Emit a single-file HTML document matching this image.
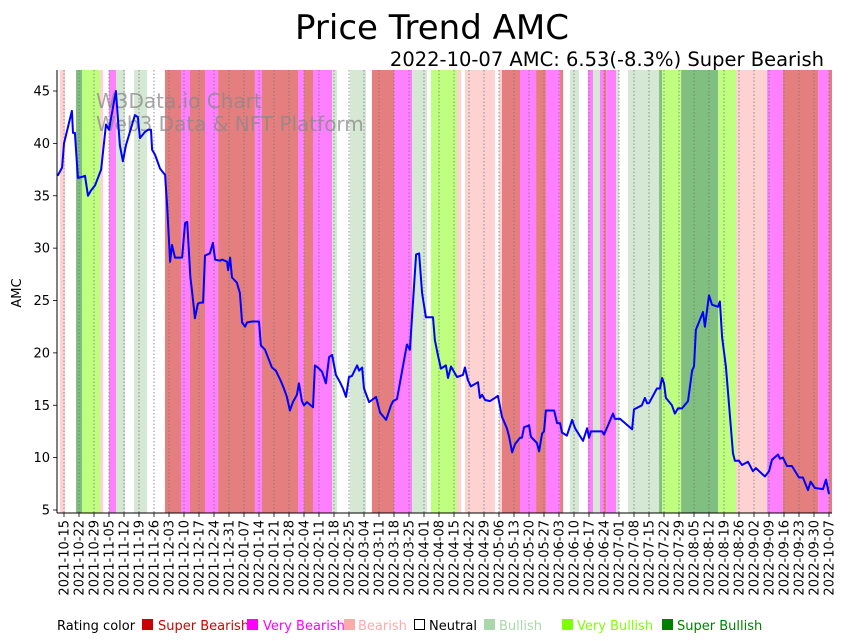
<!DOCTYPE html>
<html><head><meta charset="utf-8"><style>
body{margin:0;background:#fff;}
svg{display:block;font-family:"DejaVu Sans","Liberation Sans",sans-serif;}
</style></head><body>
<svg id="chart" width="848" height="641" viewBox="0 0 848 641">
<text x="432" y="39" font-size="34" text-anchor="middle" fill="#000">Price Trend AMC</text>
<text x="824" y="66" font-size="19.5" text-anchor="end" fill="#000">2022-10-07 AMC: 6.53(-8.3%) Super Bearish</text>
<g id="bands"></g>
<g id="grid"></g>
<g font-size="20" fill="#888" fill-opacity="0.75">
<text x="96" y="108">W3Data.io Chart</text>
<text x="96" y="131">Web3 Data &amp; NFT Platform</text>
</g>
<path id="line" fill="none" stroke="#0000ff" stroke-width="2" stroke-linejoin="round"/>
<g id="axes"></g>
<text transform="translate(21,293) rotate(-90)" font-size="13" text-anchor="middle">AMC</text>
<g font-size="13">
<text x="57" y="630" fill="#000">Rating color</text>
<rect x="142" y="619" width="11" height="11" fill="#cc0000"/>
<text x="158" y="630" fill="#d40000">Super Bearish</text>
<rect x="247" y="619" width="11" height="11" fill="#ff00ff"/>
<text x="263" y="630" fill="#ff00ff">Very Bearish</text>
<rect x="344" y="619" width="11" height="11" fill="#ffaaaa"/>
<text x="358" y="630" fill="#ffaaaa">Bearish</text>
<rect x="414.5" y="619.5" width="10" height="10" fill="#fff" stroke="#000"/>
<text x="429" y="630" fill="#000">Neutral</text>
<rect x="484" y="619" width="11" height="11" fill="#aad8aa"/>
<text x="499" y="630" fill="#aad8aa">Bullish</text>
<rect x="562" y="619" width="11" height="11" fill="#80ff00"/>
<text x="577" y="630" fill="#80ff00">Very Bullish</text>
<rect x="662" y="619" width="11" height="11" fill="#008000"/>
<text x="677" y="630" fill="#008000">Super Bullish</text>
</g>
</svg>
<script>
// Day offsets from 2021-10-12 and AMC prices
const days=[0,2.1,3,6.7,7.2,8.1,9.5,11.4,12.8,14.2,15.6,17.5,20.3,22.6,24,27.2,29.1,30.5,31.9,36.1,37.5,38.4,40.8,42.2,43.6,44.1,45.5,47.8,49.3,50.2,51.1,52.5,53.4,54.8,57.1,58.1,59.5,60.5,62,62.7,63.7,64.1,65.5,66.9,67.9,68.8,71.1,72.5,73.5,75.8,76.7,79.1,79.6,80.5,81.4,83.7,85.1,86.1,87.5,88.4,90.7,94,94.9,96.8,100,101.9,104.2,105.6,107,108.4,109.8,111.7,112.6,114,115,116.4,119.2,120.1,121.5,123.4,125.2,126.7,128.1,129.9,131.8,133.2,134.6,136,137.4,139.8,140.7,142.1,143,145.4,146.7,148.6,150.5,153.3,155.6,156.6,158.4,163,164.4,167.3,168.7,170.1,171.9,175.2,176.1,177.5,178.9,181.2,182.2,183.6,186.4,189.2,190.1,191.5,192.9,196.2,197.1,198.1,199.5,201.8,204.1,205.5,207.4,209.7,210.7,212.1,213.5,215.8,216.7,217.7,219.1,220,220.9,223.7,224.7,226.1,227,227.9,231.7,233.1,234.5,235.4,237.7,240.1,241.5,245.2,247.1,248,248.9,254.1,255,259.2,260.1,262.5,268.1,269,272.7,274.1,275.1,276,279.7,281.1,282.1,283,283.9,286.7,288.1,289.5,291.4,294.2,296.1,297,297.9,301.2,302.1,304,305.4,308.2,309.1,310.1,311.9,315.2,316.1,318,319.4,322.2,324.5,325.9,330.1,332,333.4,336.2,337.1,338.5,340.4,342.7,346,347.8,350.2,351.4,353.4,357.2,358.6,360];
const prices=[36.9,37.7,40,43.1,41,41,36.7,36.8,36.9,35,35.5,36,37.5,41.8,41.3,45,39.8,38.3,39.8,42.7,42.5,40.5,41.1,41.3,41.3,39.4,38.9,37.6,37.2,37,34.1,28.7,30.3,29.1,29.1,29.1,32.4,32.5,27.2,26,24.1,23.3,24.7,24.8,24.8,29.3,29.5,30.5,28.9,28.8,28.9,28.7,27.9,29.1,27.2,26.7,25.7,22.9,22.5,22.9,23,23,20.7,20.3,18.6,18.3,17.3,16.6,15.8,14.5,15.3,16,17.1,15.4,15,15.3,14.8,18.8,18.6,18.2,17.1,19.6,19.8,17.9,17.2,16.6,15.8,17.7,17.8,18.8,18.3,18.6,16.6,15.3,15.5,15.8,14.3,13.6,15,15.4,15.6,20.8,20.3,29.4,29.5,25.7,23.4,23.4,21.2,19.8,18.5,18.8,17.6,18.7,17.7,17.9,18.6,17.4,16.8,17.2,15.7,16,15.5,15.4,15.7,15.9,13.9,12.8,12,10.5,11.3,11.9,11.9,12.9,13,13.1,12,11.4,10.6,12.3,12.5,14.5,14.5,13.3,13.3,12.4,12.1,13.6,12.8,11.6,12.8,11.9,12.5,12.5,12.2,14.2,13.7,13.7,12.7,14.6,15,15.7,15.2,15.2,16.6,16.6,17.6,17.1,15.7,15,14.2,14.7,14.7,15.4,18.3,18.7,22.2,23.9,22.5,25.5,24.6,24.4,24.9,21.5,18.7,10.4,9.7,9.7,9.3,9.6,8.7,9,8.2,8.7,9.8,10.3,9.9,10,9.2,9.2,8.1,8.1,6.9,7.7,7.1,7,7.9,6.53];
// Rating bands: start day, end day, rating
const bandStart=[1.1,8.6,11.4,19.8,24,27.3,35.7,50.1,57.6,61.8,68.8,74.9,92.1,95.4,112.2,115,119.2,128.1,136.4,146.7,157,165.4,174.2,186.4,190.1,206,207.4,215.8,223.3,227.9,234.5,239.1,247.5,249.9,253.1,255,256,260.6,266.2,280.7,282.1,291,308.3,316.6,331.1,338.5,354.9,360];
const bandEnd=[3.5,11.4,19.8,21.2,27.3,31.5,41.8,57.6,61.8,68.8,74.9,92.1,95.4,112.2,115,119.2,128.1,130.4,143.9,157,165.4,172.4,186.4,188.3,204.1,207.4,215.8,223.3,227.9,234.5,235.9,243.3,249.9,253.1,255,256,260.6,262,280.7,282.1,291,308.3,316.6,331.1,338.5,354.9,360,361.4];
const bandRating=["bearish","superbull","verybull","bearish","verybear","bull","bull","superbear","verybear","superbear","verybear","superbear","verybear","superbear","verybear","superbear","verybear","bull","bull","superbear","verybear","bull","verybull","bearish","bearish","bearish","superbear","verybear","superbear","verybear","superbear","bull","verybear","bull","verybear","superbear","verybear","bull","bull","superbull","verybull","superbull","verybull","bearish","verybear","superbear","verybear","superbear"];
const yTicks=[5,10,15,20,25,30,35,40,45];
const tickStartDay=3, tickStep=7, tickCount=52;
const startDate=new Date(Date.UTC(2021,9,12));

const colors={superbear:"#e57f7f",verybear:"#ff80ff",bearish:"#ffd2d2",bull:"#d5e8d4",verybull:"#bfff80",superbull:"#80bf80"};
const L=57,R=832,T=70,B=513;
const xs=d=>57.57+d*(765/357);
const ys=p=>510-(p-5)*(419/40);
const NS="http://www.w3.org/2000/svg";
function mk(tag,attrs,parent){const e=document.createElementNS(NS,tag);for(const k in attrs)e.setAttribute(k,attrs[k]);parent.appendChild(e);return e;}

const bands=document.getElementById('bands');
for(let i=0;i<bandStart.length;i++){
  const x0=Math.max(L,xs(bandStart[i])),x1=Math.min(R,xs(bandEnd[i]));
  const r=mk('rect',{x:x0,y:T,width:Math.max(0,x1-x0),height:B-T,fill:colors[bandRating[i]]},bands);
  
  
}
const grid=document.getElementById('grid'),axes=document.getElementById('axes');
for(let i=0;i<tickCount;i++){
  const d=tickStartDay+i*tickStep,x=xs(d);
  const g=mk('line',{x1:x,x2:x,y1:T,y2:B,stroke:"#777",'stroke-width':0.8,'stroke-dasharray':"1.5,2"},grid);
  
  
  mk('line',{x1:x,x2:x,y1:B,y2:B+4,stroke:"#000",'stroke-width':0.8},axes);
  const dt=new Date(startDate.getTime()+d*86400000);
  const lab=dt.toISOString().slice(0,10);
  const t=mk('text',{transform:`translate(${x+4.5},${B+7}) rotate(-90)`,'font-size':13,'text-anchor':'end'},axes);
  t.textContent=lab;
  
  
}
yTicks.forEach(v=>{
  const y=ys(v);
  mk('line',{x1:L-4,x2:L,y1:y,y2:y,stroke:"#000",'stroke-width':0.8},axes);
  const t=mk('text',{x:L-7,y:y+4.5,'font-size':13,'text-anchor':'end'},axes);
  t.textContent=v;
  
  
});
mk('line',{x1:L,x2:L,y1:T,y2:B,stroke:"#000",'stroke-width':1},axes);
mk('line',{x1:L,x2:R,y1:B,y2:B,stroke:"#000",'stroke-width':1},axes);
document.getElementById('line').setAttribute('d',days.map((d,i)=>(i?'L':'M')+xs(d).toFixed(1)+','+ys(prices[i]).toFixed(1)).join(''));
</script>
</body></html>
